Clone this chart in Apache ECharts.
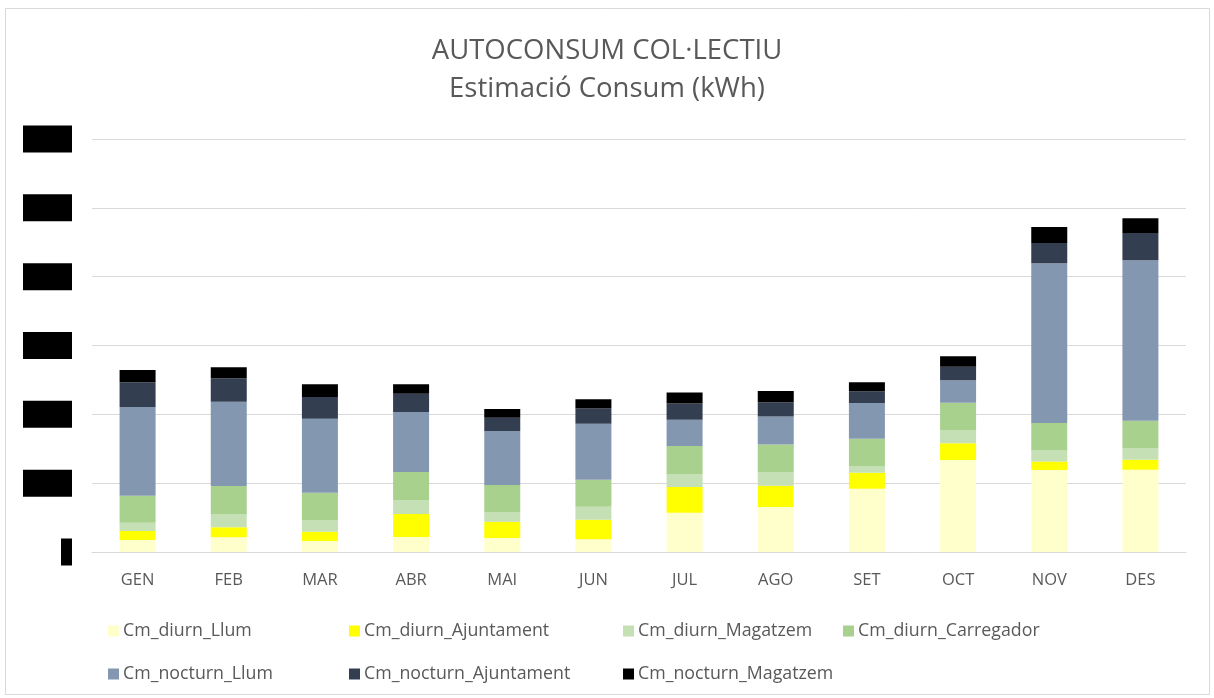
<!DOCTYPE html>
<html>
<head>
<meta charset="utf-8">
<script src="https://cdn.jsdelivr.net/npm/echarts@6/dist/echarts.min.js"></script>
<style>
  html, body { margin: 0; padding: 0; background: #ffffff; }
  #chart { width: 1214px; height: 698px; }
</style>
</head>
<body>
<div id="chart"></div>
<script>
// Monthly consumption estimates (kWh) per consumer and time band
const months = ['GEN', 'FEB', 'MAR', 'ABR', 'MAI', 'JUN', 'JUL', 'AGO', 'SET', 'OCT', 'NOV', 'DES'];

const diurnLlum        = [174, 214, 160, 218, 203, 184, 571, 654, 920, 1337, 1192, 1196];
const diurnAjuntament  = [131, 145, 135, 334, 237, 286, 373, 310, 232, 242, 121, 145];
const diurnMagatzem    = [121, 194, 170, 203, 140, 189, 189, 199, 97, 194, 160, 170];
const diurnCarregador  = [392, 407, 397, 407, 392, 392, 407, 397, 397, 397, 402, 397];
const nocturnLlum      = [1289, 1221, 1075, 872, 785, 814, 382, 407, 519, 324, 2320, 2331];
const nocturnAjuntament= [359, 344, 315, 266, 194, 218, 237, 208, 170, 199, 295, 397];
const nocturnMagatzem  = [179, 160, 185, 136, 126, 136, 160, 164, 131, 151, 232, 213];

const yTicks = { min: 0, max: 6000, interval: 1000 };

const seriesDefs = [
  { name: 'Cm_diurn_Llum',         data: diurnLlum,         color: '#FFFFCC' },
  { name: 'Cm_diurn_Ajuntament',   data: diurnAjuntament,   color: '#FFFF00' },
  { name: 'Cm_diurn_Magatzem',     data: diurnMagatzem,     color: '#C5E0B4' },
  { name: 'Cm_diurn_Carregador',   data: diurnCarregador,   color: '#A9D18E' },
  { name: 'Cm_nocturn_Llum',       data: nocturnLlum,       color: '#8497B0' },
  { name: 'Cm_nocturn_Ajuntament', data: nocturnAjuntament, color: '#333F50' },
  { name: 'Cm_nocturn_Magatzem',   data: nocturnMagatzem,   color: '#000000' }
];

// Legend placement: two rows, four columns
const legendPos = [
  [108, 622], [349, 622], [623, 622], [843, 622],
  [108, 665], [349, 665], [623, 665]
];

const FONT = '"Open Sans", Lato, sans-serif';
const GREY = '#595959';

const chart = echarts.init(document.getElementById('chart'), null, { renderer: 'canvas' });

const option = {
  backgroundColor: '#ffffff',
  animation: false,
  title: {
    text: 'AUTOCONSUM COL·LECTIU\nEstimació Consum (kWh)',
    left: 'center',
    top: 27,
    textStyle: {
      fontFamily: FONT,
      fontSize: 27.5,
      fontWeight: 'normal',
      color: GREY,
      lineHeight: 38
    }
  },
  graphic: [{
    type: 'rect',
    shape: { x: 5.5, y: 8.5, width: 1204, height: 686 },
    style: { fill: 'none', stroke: '#d9d9d9', lineWidth: 1 },
    silent: true
  }],
  legend: seriesDefs.map((s, i) => ({
    data: [s.name],
    left: legendPos[i][0],
    top: legendPos[i][1],
    itemWidth: 11,
    itemHeight: 11,
    itemGap: 0,
    icon: 'rect',
    padding: 0,
    textStyle: { fontFamily: FONT, fontSize: 17.8, color: GREY, padding: [0, 0, 0, -1] },
    selectedMode: false
  })),
  grid: { left: 92, right: 28, top: 139, bottom: 146 },
  xAxis: {
    type: 'category',
    data: months,
    axisLine: { lineStyle: { color: '#d9d9d9', width: 1 } },
    axisTick: { show: false },
    axisLabel: { fontFamily: FONT, fontSize: 16.5, color: GREY, margin: 20 }
  },
  yAxis: {
    type: 'value',
    min: yTicks.min,
    max: yTicks.max,
    interval: yTicks.interval,
    axisLine: { show: false },
    axisTick: { show: false },
    splitLine: { lineStyle: { color: '#d9d9d9', width: 1 } },
    axisLabel: {
      margin: 20,
      formatter: v => (v === 0 ? '{z|0}' : '{v|' + v + '}'),
      rich: {
        z: { width: 11, height: 27, backgroundColor: '#000', color: '#000', fontSize: 12, align: 'center' },
        v: { width: 49, height: 27, backgroundColor: '#000', color: '#000', fontSize: 12, align: 'center' }
      }
    }
  },
  series: seriesDefs.map(s => ({
    name: s.name,
    type: 'bar',
    stack: 'total',
    barWidth: 36,
    data: s.data,
    itemStyle: { color: s.color },
    emphasis: { disabled: true }
  }))
};

chart.setOption(option);
</script>
</body>
</html>
